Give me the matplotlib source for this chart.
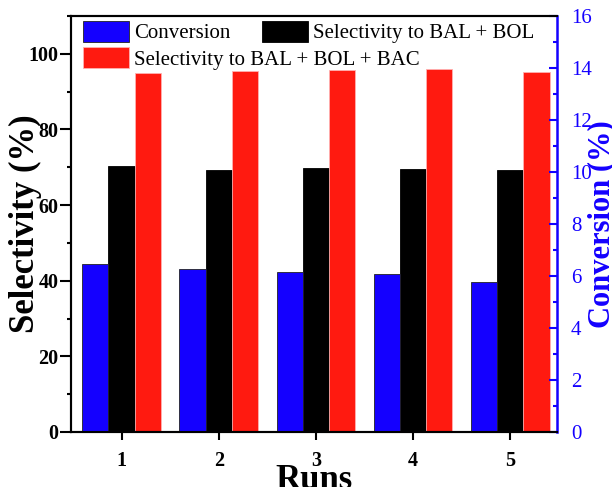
import numpy as np
import matplotlib.pyplot as plt
from matplotlib.ticker import MultipleLocator

plt.rcParams['font.family'] = ['Liberation Serif', 'DejaVu Serif']

# Data
runs = [1, 2, 3, 4, 5]
conversion = [6.46, 6.27, 6.16, 6.06, 5.77]
sel_bal_bol = [70.3, 69.3, 69.9, 69.5, 69.3]
sel_bal_bol_bac = [95.0, 95.5, 95.7, 96.1, 95.3]

x = np.array(runs, dtype=float)
w = 0.27
blue = '#1400ff'

fig = plt.figure(figsize=(6.12, 4.87), dpi=100)
ax = fig.add_axes([0.116, 0.113, 0.794, 0.854])
ax2 = ax.twinx()

# Conversion on right axis, selectivities on left axis
b1 = ax2.bar(x - w, conversion, w, color=blue, edgecolor='#222222', linewidth=0.6,
             label='Conversion')
b2 = ax.bar(x, sel_bal_bol, w, color='black', edgecolor='black', linewidth=0.6,
            label='Selectivity to BAL + BOL')
b3 = ax.bar(x + w, sel_bal_bol_bac, w, color='#ff1a10', edgecolor='#ffb0b0', linewidth=0.6,
            label='Selectivity to BAL + BOL + BAC')

ax.set_xlim(0.48, 5.48)
ax.set_ylim(0, 110)
ax2.set_ylim(0, 16)

ax.set_xticks(runs)
ax.yaxis.set_major_locator(MultipleLocator(20))
ax.yaxis.set_minor_locator(MultipleLocator(10))
ax2.yaxis.set_major_locator(MultipleLocator(2))
ax2.yaxis.set_minor_locator(MultipleLocator(1))

ax.tick_params(axis='y', which='major', direction='out', length=8, width=1.5,
               labelsize=14.5, pad=1)
ax.tick_params(axis='y', which='minor', direction='out', length=3, width=1.5)
ax.tick_params(axis='x', which='major', direction='out', length=6, width=1.5,
               labelsize=14.5, pad=8)
for lab in ax.get_xticklabels() + ax.get_yticklabels():
    lab.set_fontweight('bold')

ax2.tick_params(axis='y', which='major', direction='in', length=6, width=1.5,
                colors=blue, labelsize=15, pad=10)
ax2.tick_params(axis='y', which='minor', direction='in', length=3, width=1.5,
                colors=blue)

for s in ['left', 'bottom', 'top']:
    ax.spines[s].set_linewidth(1.5)
    ax2.spines[s].set_linewidth(1.5)
ax2.spines['right'].set_linewidth(1.8)
ax2.spines['right'].set_color(blue)
ax.spines['right'].set_visible(False)

ax.set_xlabel('Runs', fontsize=25, fontweight='bold', labelpad=-5)
ax.set_ylabel('Selectivity (%)', fontsize=25, fontweight='bold', labelpad=-10)
ax2.set_ylabel('Conversion (%)', fontsize=22, fontweight='bold', color=blue,
               labelpad=-3)

leg_kw = dict(loc='upper left', frameon=False, fontsize=15, handlelength=2.2,
              handleheight=1.15, handletextpad=0.25, borderpad=0, borderaxespad=0)
leg1 = ax.legend([b1, b2], [b1.get_label(), b2.get_label()], ncol=2,
                 columnspacing=1.5, bbox_to_anchor=(0.025, 0.988), **leg_kw)
ax.add_artist(leg1)
ax.legend([b3], [b3.get_label()], bbox_to_anchor=(0.025, 0.925), **leg_kw)

fig.savefig('out.png', dpi=100)
